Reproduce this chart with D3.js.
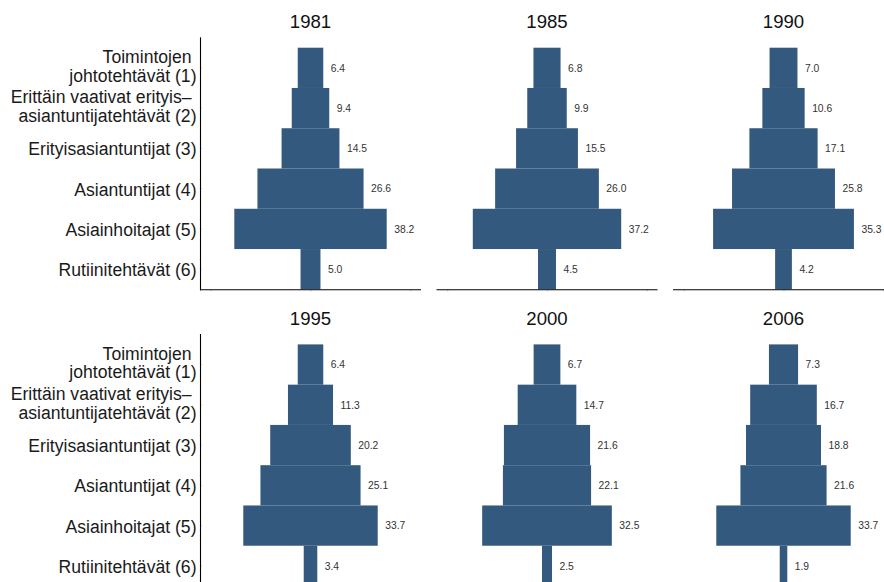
<!DOCTYPE html>
<html>
<head>
<meta charset="utf-8">
<script src="https://cdn.jsdelivr.net/npm/d3@7"></script>
<style>
  html, body { margin: 0; padding: 0; background: #fff; }
  svg { display: block; }
  text { font-family: "Liberation Sans", Arial, Helvetica, sans-serif; }
</style>
</head>
<body>
<svg id="chart" width="884" height="582"></svg>
<script>
const years = ["1981", "1985", "1990", "1995", "2000", "2006"];
const categories = [
  ["Toimintojen ", "johtotehtävät (1)"],
  ["Erittäin vaativat erityis– ", "asiantuntijatehtävät (2)"],
  ["Erityisasiantuntijat (3)"],
  ["Asiantuntijat (4)"],
  ["Asiainhoitajat (5)"],
  ["Rutiinitehtävät (6)"]
];
const v1981 = [6.4, 9.4, 14.5, 26.6, 38.2, 5.0];
const v1985 = [6.8, 9.9, 15.5, 26.0, 37.2, 4.5];
const v1990 = [7.0, 10.6, 17.1, 25.8, 35.3, 4.2];
const v1995 = [6.4, 11.3, 20.2, 25.1, 33.7, 3.4];
const v2000 = [6.7, 14.7, 21.6, 22.1, 32.5, 2.5];
const v2006 = [7.3, 16.7, 18.8, 21.6, 33.7, 1.9];
const xTicks = [-25, 0, 25];

const seriesByYear = [v1981, v1985, v1990, v1995, v2000, v2006];
const catKeys = categories.map((c, i) => "c" + i);

const svg = d3.select("#chart");
const barColor = "#33597e";

const panelW = 221, panelStep = 236.5, firstLeft = 200;
const rowTops = [37.3, 334.0];
const panelH = 252;

years.forEach((yr, idx) => {
  const col = idx % 3, row = Math.floor(idx / 3);
  const left = firstLeft + col * panelStep;
  const top = rowTops[row];
  const bottom = top + panelH;
  const g = svg.append("g");

  const x = d3.scaleLinear().domain([-27.7, 27.7]).range([left, left + panelW]);
  const y = d3.scaleBand().domain(catKeys).range([top + 10.4, bottom]).padding(0);

  const data = seriesByYear[idx].map((v, i) => ({ key: catKeys[i], v }));

  // bars centered
  g.selectAll("rect.bar").data(data).enter().append("rect")
    .attr("class", "bar")
    .attr("x", d => x(-d.v / 2))
    .attr("width", d => x(d.v / 2) - x(-d.v / 2))
    .attr("y", d => y(d.key))
    .attr("height", y.bandwidth())
    .attr("fill", barColor);

  // value labels
  g.selectAll("text.val").data(data).enter().append("text")
    .attr("class", "val")
    .attr("x", d => x(d.v / 2) + 7.5)
    .attr("y", d => y(d.key) + y.bandwidth() / 2 + 3.7)
    .attr("font-size", 10.3)
    .attr("fill", "#333")
    .text(d => d.v.toFixed(1));

  // title
  g.append("text")
    .attr("x", x(0))
    .attr("y", top - 9)
    .attr("text-anchor", "middle")
    .attr("font-size", 18.6)
    .attr("fill", "#111")
    .text(yr);

  // bottom axis
  const xAxis = d3.axisBottom(x).tickValues(xTicks).tickSize(2).tickFormat("");
  const ax = g.append("g").attr("transform", `translate(0,${bottom})`).call(xAxis);
  ax.select(".domain").remove();
  ax.selectAll(".tick line").attr("stroke", "#c8c8c8");
  g.append("line")
    .attr("x1", left).attr("x2", left + panelW)
    .attr("y1", bottom + 0.5).attr("y2", bottom + 0.5)
    .attr("stroke", "#000").attr("stroke-width", 1.1);

  if (col === 0) {
    const yAxis = d3.axisLeft(y).tickSize(-2).tickFormat("");
    const ay = g.append("g").attr("transform", `translate(${left},0)`).call(yAxis);
    ay.select(".domain").remove();
    ay.selectAll(".tick line").attr("stroke", "#c8c8c8");
    g.append("line")
      .attr("x1", left + 0.5).attr("x2", left + 0.5)
      .attr("y1", top).attr("y2", bottom + 1)
      .attr("stroke", "#000").attr("stroke-width", 1.1);

    categories.forEach((lines, i) => {
      const cy = y(catKeys[i]) + y.bandwidth() / 2;
      const t = g.append("text")
        .attr("text-anchor", "end")
        .attr("font-size", 17.6)
        .attr("fill", "#1a1a1a")
        .style("white-space", "pre");
      if (lines.length === 1) {
        t.append("tspan").attr("x", left - 3.5).attr("y", cy + 7).text(lines[0]);
      } else {
        t.append("tspan").attr("x", left - 3.5).attr("y", cy - 4.7).text(lines[0]);
        t.append("tspan").attr("x", left - 3.5).attr("y", cy + 13.7).text(lines[1]);
      }
    });
  }
});
</script>
</body>
</html>
